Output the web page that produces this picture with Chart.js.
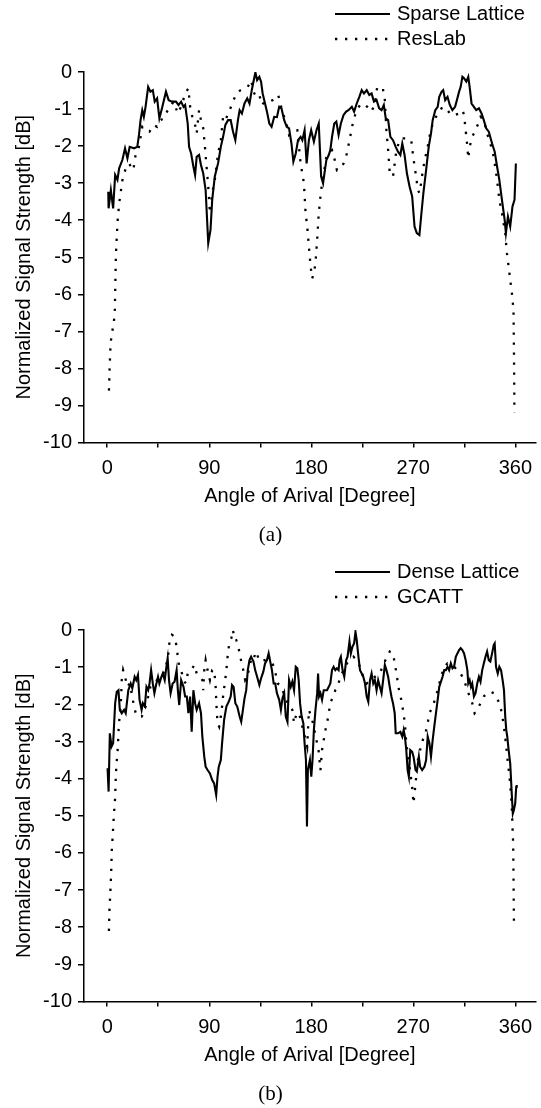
<!DOCTYPE html>
<html>
<head>
<meta charset="utf-8">
<script src="https://cdn.jsdelivr.net/npm/chart.js@4.4.1/dist/chart.umd.min.js"></script>
<style>
  body { margin: 0; background: #fff; }
  canvas { display: block; }
</style>
</head>
<body>
<canvas id="chartA" width="541" height="558"></canvas>
<canvas id="chartB" width="541" height="550"></canvas>
<script>
// axis setup
const xMin = -20.5;
const xMax = 378;
const xTickValues = [0, 45, 90, 135, 180, 225, 270, 315, 360];
const xLabelValues = [0, 90, 180, 270, 360];
const yMin = -10;
const yMax = 0;

// (a) [angle in degrees, dB]
const sparseLattice = [[0.9,-3.23],[1.2,-3.68],[3.2,-3.19],[5.2,-3.68],[7.0,-2.78],[9.0,-2.91],[10.5,-2.6],[13.4,-2.37],[15.7,-2.06],[17.8,-2.33],[19.8,-2.02],[23.6,-2.06],[26.5,-2.02],[28.0,-1.7],[29.4,-1.3],[30.9,-1.03],[32.3,-1.21],[33.8,-0.94],[36.1,-0.4],[38.1,-0.53],[40.2,-0.49],[41.9,-0.8],[44.0,-0.71],[46.0,-1.25],[48.3,-0.98],[51.8,-0.53],[54.2,-0.76],[57.1,-0.8],[60.6,-0.8],[62.9,-0.89],[65.2,-0.8],[67.3,-0.94],[68.7,-0.89],[71.0,-1.39],[72.2,-2.02],[74.0,-2.2],[76.0,-2.55],[77.5,-2.78],[78.9,-2.29],[81.0,-2.24],[82.7,-2.51],[84.7,-2.74],[86.8,-3.19],[89.1,-4.62],[91.1,-4.26],[92.6,-3.45],[94.9,-2.82],[97.8,-2.46],[100.2,-2.02],[102.2,-1.75],[104.2,-1.43],[106.6,-1.3],[108.9,-1.3],[111.0,-1.61],[113.0,-1.84],[115.3,-1.3],[116.8,-1.03],[118.8,-1.12],[121.1,-0.85],[123.5,-0.71],[125.5,-0.85],[127.5,-0.49],[129.9,-0.13],[130.7,-0.01],[132.2,-0.22],[134.2,-0.13],[135.7,-0.26],[137.1,-0.58],[139.2,-0.85],[140.9,-1.07],[143.0,-1.39],[145.0,-1.48],[147.3,-1.21],[149.7,-1.22],[151.7,-0.94],[153.7,-0.98],[156.1,-1.3],[158.4,-1.48],[160.4,-1.52],[162.5,-1.93],[164.2,-2.42],[166.3,-2.2],[168.3,-1.84],[170.6,-1.75],[172.1,-1.84],[174.1,-1.57],[175.9,-2.47],[177.9,-1.84],[179.9,-1.57],[182.3,-1.88],[184.6,-1.57],[186.6,-1.39],[188.7,-2.82],[190.4,-3.0],[191.6,-2.74],[193.3,-2.38],[195.4,-2.24],[196.8,-2.11],[198.3,-1.75],[200.3,-1.39],[202.1,-1.34],[204.1,-1.7],[206.1,-1.39],[208.5,-1.16],[210.8,-1.07],[212.8,-1.03],[215.8,-0.94],[217.8,-1.07],[220.1,-0.85],[222.4,-0.67],[224.5,-0.49],[226.5,-0.58],[228.9,-0.49],[231.2,-0.62],[233.2,-0.58],[235.3,-0.8],[237.6,-0.76],[239.9,-0.98],[242.0,-1.03],[244.0,-0.89],[245.7,-1.25],[247.8,-1.3],[249.8,-1.75],[252.1,-1.84],[254.5,-2.02],[256.5,-2.15],[258.6,-2.24],[260.3,-1.93],[262.3,-2.24],[264.4,-2.74],[266.7,-3.09],[269.0,-3.36],[271.1,-4.17],[273.1,-4.35],[275.4,-4.4],[276.9,-3.9],[278.9,-3.27],[281.3,-2.65],[283.6,-2.02],[285.6,-1.66],[287.1,-1.3],[289.4,-1.03],[291.5,-0.94],[292.9,-0.67],[295.0,-0.53],[296.4,-0.49],[298.1,-0.76],[300.2,-0.67],[302.2,-0.89],[304.5,-1.03],[306.9,-0.94],[308.9,-0.71],[310.4,-0.53],[311.8,-0.4],[313.3,-0.13],[314.8,-0.17],[316.8,-0.26],[318.5,-0.13],[319.7,-0.4],[321.4,-0.85],[323.5,-0.94],[325.5,-1.03],[327.9,-0.98],[330.2,-1.12],[332.2,-1.3],[334.3,-1.52],[336.6,-1.61],[339.5,-1.93],[341.8,-2.15],[343.9,-2.55],[345.9,-2.91],[348.2,-3.45],[350.6,-3.99],[351.7,-4.35],[353.5,-3.9],[355.5,-4.17],[357.5,-3.63],[359.3,-3.45],[360.5,-2.47]];

const resLab = [[1.5,-8.6],[2.2,-7.9],[3.0,-7.3],[4.5,-7.0],[6.0,-6.7],[6.7,-6.42],[7.6,-4.98],[9.0,-4.08],[10.5,-3.55],[13.4,-2.92],[16.3,-2.6],[19.2,-2.47],[23.0,-2.65],[25.0,-2.24],[28.0,-2.02],[30.9,-1.48],[33.8,-1.57],[37.3,-1.61],[41.1,-1.43],[44.0,-1.48],[46.9,-1.3],[49.8,-1.25],[52.7,-1.07],[58.5,-0.8],[62.3,-1.12],[65.8,-0.89],[68.7,-0.58],[71.6,-0.44],[73.1,-0.94],[75.1,-1.21],[77.5,-1.43],[78.9,-1.66],[81.0,-1.03],[82.7,-1.3],[84.7,-1.52],[86.2,-2.02],[87.6,-2.55],[89.1,-3.09],[90.6,-3.81],[92.6,-3.27],[94.9,-2.91],[97.8,-2.2],[100.2,-1.84],[102.2,-1.21],[104.2,-1.3],[108.0,-1.03],[111.0,-0.8],[113.8,-0.58],[117.6,-0.49],[121.1,-0.44],[124.0,-0.4],[127.0,-0.22],[129.0,-0.53],[131.3,-0.67],[134.2,-0.62],[136.3,-0.89],[139.2,-0.8],[143.0,-0.8],[145.9,-0.76],[150.8,-0.62],[154.6,-1.07],[158.4,-1.43],[160.4,-1.7],[164.8,-1.57],[167.7,-1.57],[170.6,-2.47],[173.5,-3.0],[175.0,-3.81],[176.4,-4.17],[177.9,-4.71],[179.4,-5.25],[180.8,-5.57],[182.3,-5.43],[183.7,-5.16],[185.2,-4.53],[186.6,-3.81],[188.1,-3.36],[189.5,-3.0],[191.0,-2.74],[193.3,-2.29],[195.4,-2.2],[198.3,-2.11],[199.7,-2.24],[202.6,-2.65],[205.6,-2.6],[208.5,-2.47],[211.4,-2.2],[214.3,-1.75],[216.6,-1.39],[219.5,-1.07],[223.0,-0.89],[226.0,-0.85],[229.4,-0.94],[233.2,-1.07],[236.1,-0.85],[238.2,-0.4],[240.5,-0.49],[243.4,-0.49],[244.9,-0.76],[246.3,-1.57],[247.8,-2.11],[249.2,-2.74],[252.1,-2.82],[253.6,-2.47],[255.1,-2.11],[258.0,-1.84],[260.9,-1.79],[265.3,-1.79],[268.2,-1.84],[269.6,-2.2],[271.1,-2.55],[272.5,-2.82],[274.0,-3.18],[275.4,-3.27],[276.9,-3.0],[278.4,-2.65],[280.7,-2.29],[282.7,-2.02],[284.2,-1.75],[287.1,-1.39],[290.0,-1.21],[292.9,-1.07],[295.8,-0.94],[300.2,-1.03],[303.1,-1.16],[306.9,-1.16],[310.4,-1.12],[313.3,-1.03],[314.8,-1.16],[316.2,-1.57],[317.7,-2.02],[318.5,-2.33],[319.7,-2.02],[322.0,-1.75],[324.9,-1.57],[327.3,-1.39],[329.3,-1.21],[332.2,-1.3],[335.1,-1.66],[338.0,-1.93],[341.0,-2.29],[343.9,-2.91],[345.9,-3.45],[348.2,-3.81],[351.1,-4.35],[352.6,-4.89],[354.1,-5.25],[355.5,-5.61],[357.0,-5.97],[358.4,-6.42],[358.8,-7.5],[359.0,-8.3],[359.2,-9.2]];

// (b) [angle in degrees, dB]
const denseLattice = [[0.3,-3.72],[1.2,-4.35],[2.3,-2.78],[3.8,-3.14],[5.2,-3.05],[7.0,-1.97],[8.4,-1.66],[9.9,-1.62],[11.1,-2.15],[12.8,-2.24],[14.9,-2.15],[16.3,-2.24],[18.6,-1.62],[20.7,-1.44],[22.1,-1.57],[24.2,-1.26],[25.6,-1.35],[27.1,-1.21],[28.5,-1.88],[30.3,-2.15],[31.4,-1.97],[33.2,-2.06],[34.6,-1.53],[36.1,-1.62],[37.3,-1.44],[38.7,-1.08],[40.2,-1.44],[41.6,-1.7],[43.1,-1.48],[44.8,-1.26],[46.0,-1.44],[47.8,-1.26],[49.0,-1.17],[50.7,-1.35],[51.8,-1.08],[53.3,-0.76],[54.5,-1.35],[55.9,-1.7],[57.7,-1.44],[59.4,-1.39],[61.2,-1.08],[62.3,-1.62],[63.5,-2.02],[65.2,-1.35],[67.3,-1.53],[68.7,-1.79],[70.2,-1.79],[71.6,-2.24],[73.1,-1.79],[74.5,-2.74],[76.0,-1.62],[77.5,-1.97],[78.9,-2.15],[81.0,-1.97],[82.7,-2.24],[83.9,-2.87],[85.6,-3.41],[86.8,-3.68],[88.5,-3.77],[90.6,-3.86],[92.6,-4.04],[94.3,-4.13],[96.1,-4.44],[97.3,-3.95],[98.4,-3.68],[100.2,-3.5],[101.3,-3.05],[103.1,-2.42],[105.1,-2.06],[107.2,-1.93],[108.9,-1.79],[110.1,-1.48],[111.5,-1.53],[113.0,-1.97],[114.7,-2.06],[116.8,-2.33],[118.2,-2.47],[119.7,-2.15],[121.1,-1.84],[122.6,-1.62],[124.0,-1.08],[125.5,-0.81],[126.9,-0.72],[129.0,-0.85],[130.5,-1.08],[132.2,-1.26],[134.2,-1.48],[135.7,-1.3],[137.7,-1.12],[139.2,-0.9],[140.9,-0.81],[142.4,-0.63],[143.8,-0.85],[145.3,-1.08],[146.8,-1.44],[148.2,-1.44],[149.7,-1.7],[151.7,-1.88],[153.2,-2.15],[154.6,-1.84],[156.1,-1.7],[157.5,-2.33],[159.0,-2.47],[160.4,-1.35],[161.9,-1.53],[163.3,-1.39],[164.8,-1.62],[166.3,-0.99],[167.7,-1.03],[168.9,-1.35],[170.1,-1.97],[171.5,-2.33],[173.0,-2.51],[174.1,-3.05],[175.3,-3.5],[176.2,-5.29],[177.0,-3.77],[178.8,-3.5],[180.0,-3.95],[181.1,-3.5],[182.3,-2.69],[183.7,-2.15],[185.2,-1.7],[186.0,-1.17],[186.9,-1.79],[188.1,-1.7],[189.5,-1.88],[191.0,-1.62],[193.9,-1.62],[195.4,-1.53],[196.8,-1.44],[198.3,-1.08],[199.7,-0.99],[201.2,-1.08],[202.6,-1.03],[204.1,-1.08],[205.0,-0.81],[206.1,-0.72],[207.6,-1.08],[209.1,-1.26],[210.8,-0.81],[212.0,-0.72],[213.7,-0.31],[214.9,-0.63],[216.3,-0.45],[217.8,-0.36],[219.0,-0.05],[220.1,-0.27],[221.6,-0.72],[223.0,-1.08],[224.5,-1.17],[225.9,-1.26],[227.4,-1.44],[228.9,-1.79],[230.3,-1.93],[231.8,-1.35],[233.2,-1.17],[234.7,-1.44],[236.1,-1.35],[237.6,-1.62],[239.0,-1.35],[240.5,-1.53],[242.0,-1.7],[243.4,-1.35],[244.9,-0.94],[246.3,-1.08],[247.8,-1.26],[249.2,-1.53],[250.7,-1.79],[252.1,-1.97],[253.6,-2.24],[254.5,-2.78],[256.5,-2.78],[258.6,-2.74],[260.3,-2.87],[261.5,-2.69],[262.6,-2.87],[263.8,-3.23],[265.0,-3.77],[266.1,-3.95],[267.3,-3.23],[269.0,-3.28],[270.2,-3.41],[272.0,-3.77],[273.1,-3.81],[274.9,-3.41],[276.0,-3.68],[277.8,-3.77],[279.8,-3.68],[281.3,-3.5],[282.7,-2.87],[284.2,-3.05],[285.6,-3.41],[287.1,-2.96],[288.5,-2.6],[290.0,-2.24],[291.5,-1.88],[292.9,-1.53],[294.4,-1.39],[295.8,-1.26],[297.3,-1.08],[298.7,-1.08],[300.2,-0.99],[301.6,-1.08],[303.1,-0.9],[304.6,-1.03],[306.0,-0.99],[307.5,-0.72],[308.9,-0.63],[310.4,-0.54],[311.8,-0.49],[313.3,-0.54],[314.8,-0.63],[316.2,-0.81],[317.7,-1.08],[318.5,-1.44],[319.7,-1.35],[320.9,-1.53],[322.0,-1.44],[323.5,-1.79],[324.9,-1.7],[326.4,-1.44],[327.9,-1.26],[329.3,-1.39],[330.8,-1.08],[332.2,-0.9],[333.7,-0.72],[335.1,-0.58],[336.6,-0.81],[338.0,-0.85],[339.5,-0.63],[341.0,-0.4],[341.8,-0.36],[343.0,-0.99],[344.5,-1.17],[345.9,-0.99],[347.4,-1.08],[348.8,-1.35],[350.0,-1.62],[351.1,-2.33],[352.0,-2.69],[352.9,-2.87],[354.1,-3.23],[355.5,-3.59],[357.0,-4.49],[357.8,-4.94],[358.7,-4.85],[359.9,-4.67],[360.8,-4.22],[361.3,-4.17]];

const gcatt = [[1.5,-8.1],[2.0,-7.5],[2.7,-7.1],[3.4,-6.6],[4.1,-5.88],[4.7,-5.61],[5.2,-5.34],[5.8,-5.02],[6.4,-4.76],[7.0,-4.49],[7.6,-3.9],[8.2,-3.59],[9.0,-3.32],[9.6,-3.01],[9.9,-2.74],[10.5,-2.47],[11.9,-2.06],[12.8,-1.35],[14.0,-1.08],[15.7,-1.26],[17.8,-1.53],[19.8,-1.44],[22.1,-1.79],[23.6,-2.06],[25.6,-2.29],[28.0,-2.33],[30.3,-2.33],[32.3,-2.24],[33.8,-2.06],[36.1,-1.79],[38.1,-1.53],[40.2,-1.44],[42.5,-1.39],[45.4,-1.3],[48.3,-1.21],[50.7,-1.12],[52.7,-0.85],[54.2,-0.58],[55.0,-0.27],[57.1,-0.13],[59.4,-0.18],[60.9,-0.4],[62.3,-0.72],[63.5,-0.99],[65.2,-1.08],[67.3,-1.35],[69.3,-1.44],[71.0,-1.17],[73.1,-1.08],[75.1,-1.03],[76.9,-0.94],[78.9,-1.17],[81.8,-1.26],[83.9,-1.35],[84.7,-1.62],[85.6,-1.08],[86.8,-0.81],[88.5,-1.08],[90.6,-1.35],[92.6,-1.08],[94.3,-1.08],[95.5,-1.44],[96.4,-2.06],[97.3,-2.51],[98.7,-2.6],[100.2,-2.33],[101.3,-2.06],[102.5,-1.7],[103.7,-1.44],[105.1,-1.08],[106.6,-0.58],[108.0,-0.31],[109.5,-0.22],[110.9,0],[112.4,-0.27],[113.8,-0.27],[115.9,-0.49],[117.6,-0.76],[119.7,-1.03],[121.7,-1.35],[123.5,-1.26],[125.5,-0.99],[127.5,-0.72],[129.3,-0.76],[131.3,-0.58],[133.4,-0.76],[135.7,-0.72],[138.0,-0.76],[140.1,-0.9],[143.0,-0.72],[145.0,-0.81],[146.8,-0.99],[148.8,-1.21],[150.3,-1.44],[152.3,-1.48],[154.6,-1.62],[156.7,-1.79],[159.0,-1.97],[161.3,-2.06],[163.3,-2.15],[164.8,-2.51],[167.1,-2.24],[169.2,-2.24],[172.1,-2.6],[175.0,-2.96],[176.4,-3.14],[177.9,-2.15],[179.9,-2.33],[182.3,-2.6],[183.7,-2.87],[185.2,-3.05],[186.6,-3.28],[188.1,-3.77],[189.5,-3.23],[191.0,-2.96],[192.5,-2.69],[193.9,-2.51],[195.4,-2.24],[196.8,-1.97],[199.2,-1.79],[201.2,-1.62],[203.2,-1.53],[205.6,-1.26],[208.5,-1.08],[211.4,-0.9],[214.3,-0.81],[217.2,-0.72],[220.1,-0.81],[223.0,-0.99],[225.9,-1.26],[228.9,-1.44],[231.8,-1.35],[236.1,-1.26],[240.5,-1.17],[244.0,-0.9],[246.3,-0.76],[249.2,-0.58],[252.1,-0.63],[254.2,-0.99],[255.6,-1.26],[257.4,-1.62],[259.4,-1.88],[260.9,-2.15],[262.6,-2.51],[263.8,-3.05],[266.7,-3.68],[269.0,-4.22],[270.2,-4.67],[272.0,-4.13],[274.0,-3.5],[276.0,-3.23],[278.4,-2.96],[280.7,-2.78],[282.7,-2.51],[284.2,-2.24],[287.1,-2.06],[290.0,-1.79],[292.3,-1.53],[294.4,-1.26],[297.3,-0.99],[300.2,-0.9],[303.1,-0.94],[306.0,-0.99],[308.9,-1.08],[311.8,-1.17],[314.8,-1.35],[317.7,-1.62],[319.7,-1.79],[322.0,-1.97],[324.1,-2.24],[326.4,-2.15],[329.3,-1.97],[332.2,-1.79],[335.1,-1.7],[338.0,-1.66],[341.0,-1.7],[343.9,-1.84],[345.9,-1.97],[348.2,-2.24],[350.3,-2.69],[351.7,-3.05],[353.5,-3.59],[354.9,-3.95],[356.1,-4.4],[357.0,-4.85],[357.6,-5.38],[358.1,-5.74],[358.4,-6.6],[358.6,-7.3],[358.8,-7.9]];

Chart.defaults.font.family = 'Liberation Sans';
Chart.defaults.font.size = 20;
Chart.defaults.color = '#000';

// two-row legend in the top right corner
const stackedLegend = {
    id: 'stackedLegend',
    afterDraw(chart) {
        const ctx = chart.ctx;
        ctx.save();
        ctx.font = '20px "Liberation Sans"';
        ctx.fillStyle = '#000';
        ctx.strokeStyle = '#000';
        ctx.textBaseline = 'middle';
        chart.data.datasets.forEach((ds, i) => {
            const y = 14 + i * 25;
            ctx.lineWidth = ds.borderWidth;
            ctx.setLineDash(ds.borderDash || []);
            ctx.beginPath();
            ctx.moveTo(335, y);
            ctx.lineTo(390, y);
            ctx.stroke();
            ctx.setLineDash([]);
            ctx.fillText(ds.label, 397, y);
        });
        ctx.restore();
    }
};

const axisGrid = {
    display: true,
    drawOnChartArea: false,
    drawTicks: true,
    color: '#000',
    tickColor: '#000',
    lineWidth: 1.5,
};

function makeChart(id, solid, dotted, names, caption, padBottom) {
    return new Chart(document.getElementById(id), {
        type: 'line',
        data: {
            datasets: [{
                label: names[0],
                data: solid.map(p => ({ x: p[0], y: p[1] })),
                borderColor: '#000',
                borderWidth: 2.1,
                pointRadius: 0,
                tension: 0,
            }, {
                label: names[1],
                data: dotted.map(p => ({ x: p[0], y: p[1] })),
                borderColor: '#000',
                borderWidth: 2.3,
                borderDash: [2.3, 7.7],
                pointRadius: 0,
                tension: 0,
            }]
        },
        options: {
            responsive: false,
            animation: false,
            devicePixelRatio: 1,
            layout: { padding: { top: 72, left: 0, right: 0, bottom: padBottom } },
            plugins: {
                legend: { display: false },
                tooltip: { enabled: false },
                title: {
                    display: true,
                    text: caption,
                    position: 'bottom',
                    color: '#000',
                    font: { family: 'Liberation Serif', size: 21, weight: 'normal', lineHeight: 1.2 },
                    padding: { top: 14, bottom: 1 },
                },
            },
            scales: {
                x: {
                    type: 'linear',
                    min: xMin,
                    max: xMax,
                    afterBuildTicks: axis => { axis.ticks = xTickValues.map(v => ({ value: v })); },
                    afterFit: scale => { scale.height = 66; },
                    grid: { ...axisGrid, tickLength: 5 },
                    border: { display: true, color: '#000', width: 1.5 },
                    ticks: {
                        padding: 9,
                        maxRotation: 0,
                        autoSkip: false,
                        callback: v => xLabelValues.includes(v) ? String(v) : '',
                    },
                    title: { display: true, text: 'Angle of Arival [Degree]', padding: { top: 0, bottom: 0 } },
                },
                y: {
                    min: yMin,
                    max: yMax,
                    afterFit: scale => { scale.width = 84; },
                    grid: { ...axisGrid, tickLength: 6 },
                    border: { display: true, color: '#000', width: 1.5 },
                    ticks: { stepSize: 1, padding: 6 },
                    title: { display: true, text: 'Normalized Signal Strength [dB]', padding: { top: 12, bottom: 0 } },
                },
            },
        },
        plugins: [stackedLegend],
    });
}

makeChart('chartA', sparseLattice, resLab, ['Sparse Lattice', 'ResLab'], '(a)', 9.3);
makeChart('chartB', denseLattice, gcatt, ['Dense Lattice', 'GCATT'], '(b)', 0.3);
</script>
</body>
</html>
